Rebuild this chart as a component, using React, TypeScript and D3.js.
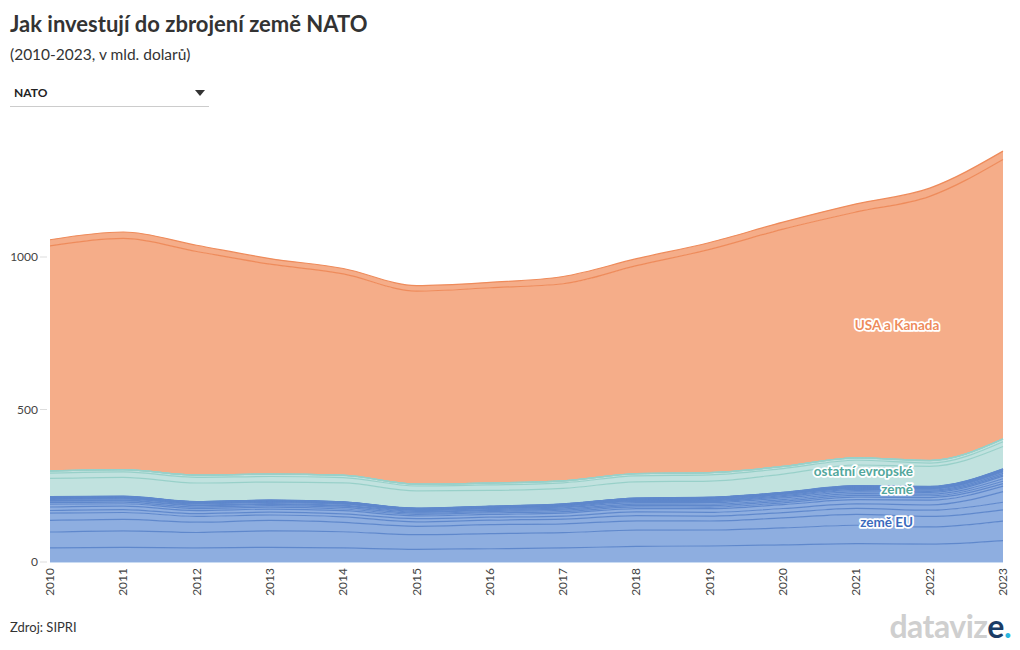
import React from "react";
import * as d3 from "d3";

const years = [2010, 2011, 2012, 2013, 2014, 2015, 2016, 2017, 2018, 2019, 2020, 2021, 2022, 2023];

// EU members (bottom of stack first)
const germany = [46.3, 48.1, 46.5, 48.0, 46.1, 41.5, 43.5, 46.0, 51.0, 52.5, 56.1, 60.5, 58.5, 70.0];
const france = [52.0, 54.1, 50.2, 54.0, 53.1, 48.0, 49.5, 50.0, 53.5, 52.5, 55.5, 60.0, 56.5, 64.0];
const italy = [38.0, 37.6, 33.8, 34.5, 30.9, 27.5, 29.5, 29.1, 30.5, 29.5, 33.0, 35.5, 34.5, 37.0];
const spain = [23.8, 22.5, 18.8, 17.6, 17.7, 14.8, 15.0, 15.6, 17.2, 16.1, 17.4, 19.5, 20.3, 25.0];
const poland = [8.8, 9.5, 9.1, 9.2, 10.1, 10.6, 9.4, 10.0, 11.9, 12.0, 13.4, 15.0, 17.5, 35.0];
const netherlands = [11.4, 11.2, 10.3, 10.2, 10.3, 8.9, 9.3, 9.7, 11.1, 12.1, 12.7, 14.0, 15.6, 18.0];
const greece = [9.1, 7.9, 6.4, 6.1, 5.6, 5.0, 5.2, 5.0, 5.6, 5.4, 6.0, 8.1, 8.3, 8.1];
const belgium = [5.2, 5.3, 5.0, 5.2, 5.2, 3.9, 4.0, 4.3, 4.8, 4.7, 5.4, 6.1, 6.0, 7.7];
const denmark = [4.5, 4.6, 4.5, 4.2, 4.1, 3.4, 3.6, 3.8, 4.4, 4.6, 5.0, 5.4, 5.5, 8.1];
const romania = [2.0, 2.2, 2.1, 2.4, 2.7, 2.6, 2.8, 4.0, 4.6, 5.0, 5.7, 5.7, 5.2, 8.5];
const portugal = [4.2, 4.0, 3.4, 3.7, 3.6, 2.9, 3.0, 3.5, 3.9, 4.2, 4.4, 4.6, 3.9, 4.4];
const czechia = [2.6, 2.5, 2.2, 2.1, 2.0, 1.9, 2.0, 2.3, 2.8, 3.0, 3.2, 3.9, 3.7, 5.0];
const hungary = [1.3, 1.3, 1.2, 1.1, 1.2, 1.1, 1.3, 1.6, 1.8, 2.1, 2.7, 3.0, 3.4, 4.3];
const slovakia = [1.1, 1.1, 1.0, 1.0, 1.0, 1.0, 1.0, 1.1, 1.3, 1.9, 2.0, 2.0, 2.0, 2.8];
const bulgaria = [0.8, 0.8, 0.8, 0.8, 0.8, 0.7, 0.7, 0.8, 0.9, 2.2, 1.2, 1.2, 1.2, 1.3];
const croatia = [1.0, 1.0, 0.9, 0.9, 0.9, 0.8, 0.8, 0.9, 1.0, 1.0, 1.1, 1.4, 1.4, 1.3];
const lithuania = [0.3, 0.3, 0.3, 0.4, 0.4, 0.5, 0.6, 0.8, 1.1, 1.1, 1.2, 1.3, 1.4, 1.7];
const latvia = [0.25, 0.3, 0.3, 0.3, 0.3, 0.3, 0.4, 0.5, 0.7, 0.7, 0.7, 0.8, 0.9, 1.0];
const estonia = [0.3, 0.4, 0.4, 0.5, 0.5, 0.4, 0.5, 0.5, 0.6, 0.7, 0.7, 0.8, 0.8, 1.0];
const slovenia = [0.8, 0.7, 0.6, 0.5, 0.5, 0.4, 0.5, 0.5, 0.6, 0.6, 0.6, 0.8, 0.7, 0.8];
const luxembourg = [0.3, 0.3, 0.3, 0.3, 0.3, 0.3, 0.3, 0.4, 0.4, 0.5, 0.4, 0.5, 0.5, 0.6];

// other European members
const uk = [60.0, 62.0, 61.0, 59.0, 62.0, 57.0, 52.0, 51.0, 53.0, 53.0, 60.0, 68.0, 66.0, 73.0];
const turkey = [17.6, 17.7, 18.2, 18.4, 17.6, 15.7, 17.8, 18.2, 19.6, 20.4, 17.7, 15.5, 10.6, 15.8];
const norway = [6.5, 7.1, 7.3, 7.6, 7.3, 5.9, 6.1, 6.3, 7.0, 6.9, 7.0, 7.6, 7.9, 8.7];
const albania = [0.2, 0.2, 0.2, 0.2, 0.2, 0.13, 0.13, 0.14, 0.18, 0.19, 0.21, 0.24, 0.29, 0.42];
const northMacedonia = [0.13, 0.13, 0.13, 0.12, 0.12, 0.1, 0.1, 0.1, 0.14, 0.17, 0.16, 0.2, 0.22, 0.28];
const montenegro = [0.07, 0.07, 0.07, 0.07, 0.07, 0.07, 0.07, 0.07, 0.08, 0.08, 0.1, 0.1, 0.1, 0.14];

// North America
const usa = [738, 758, 733, 688, 660, 633, 640, 646, 682, 732, 778, 806, 866, 916];
const canada = [20.0, 21.0, 20.5, 18.5, 17.8, 17.9, 17.8, 23.9, 22.7, 22.5, 22.8, 26.5, 26.9, 27.2];

const yTicks = [0, 500, 1000];

type Series = { key: string; group: "eu" | "eur" | "na"; values: number[] };

const seriesList: Series[] = [
  { key: "Německo", group: "eu", values: germany },
  { key: "Francie", group: "eu", values: france },
  { key: "Itálie", group: "eu", values: italy },
  { key: "Španělsko", group: "eu", values: spain },
  { key: "Polsko", group: "eu", values: poland },
  { key: "Nizozemsko", group: "eu", values: netherlands },
  { key: "Řecko", group: "eu", values: greece },
  { key: "Belgie", group: "eu", values: belgium },
  { key: "Dánsko", group: "eu", values: denmark },
  { key: "Rumunsko", group: "eu", values: romania },
  { key: "Portugalsko", group: "eu", values: portugal },
  { key: "Česko", group: "eu", values: czechia },
  { key: "Maďarsko", group: "eu", values: hungary },
  { key: "Slovensko", group: "eu", values: slovakia },
  { key: "Bulharsko", group: "eu", values: bulgaria },
  { key: "Chorvatsko", group: "eu", values: croatia },
  { key: "Litva", group: "eu", values: lithuania },
  { key: "Lotyšsko", group: "eu", values: latvia },
  { key: "Estonsko", group: "eu", values: estonia },
  { key: "Slovinsko", group: "eu", values: slovenia },
  { key: "Lucembursko", group: "eu", values: luxembourg },
  { key: "Velká Británie", group: "eur", values: uk },
  { key: "Turecko", group: "eur", values: turkey },
  { key: "Norsko", group: "eur", values: norway },
  { key: "Albánie", group: "eur", values: albania },
  { key: "Severní Makedonie", group: "eur", values: northMacedonia },
  { key: "Černá Hora", group: "eur", values: montenegro },
  { key: "USA", group: "na", values: usa },
  { key: "Kanada", group: "na", values: canada },
];

const fills = { eu: "#8eaee0", eur: "#c1e2df", na: "#f5ad89" };
const strokes = { eu: "#5f88cc", eur: "#98d0c9", na: "#ee8b5b" };

const FONT = "Lato, 'Noto Sans', sans-serif";

export default function App() {
  const rows = years.map((yr, i) => {
    const r: Record<string, number> = { year: yr };
    seriesList.forEach((s) => (r[s.key] = s.values[i]));
    return r;
  });
  const stack = d3.stack<Record<string, number>>().keys(seriesList.map((s) => s.key));
  const layers = stack(rows);

  const x = d3.scaleLinear().domain([2010, 2023]).range([50, 1003]);
  const y = d3.scaleLinear().domain([0, 1000]).range([562, 257]);

  const area = d3
    .area<d3.SeriesPoint<Record<string, number>>>()
    .x((d) => x(d.data.year))
    .y0((d) => y(d[0]))
    .y1((d) => y(d[1]))
    .curve(d3.curveMonotoneX);
  const line = d3
    .line<d3.SeriesPoint<Record<string, number>>>()
    .x((d) => x(d.data.year))
    .y((d) => y(d[1]))
    .curve(d3.curveMonotoneX);

  const halo = { paintOrder: "stroke" as const, stroke: "#fff", strokeWidth: 3.5, strokeLinejoin: "round" as const };

  return (
    <svg
      width={1020}
      height={650}
      style={{ position: "absolute", left: 0, top: 0, background: "#fff" }}
      fontFamily={FONT}
    >
      <text x={10} y={32} fontSize={22} fontWeight={700} fill="#333">
        Jak investují do zbrojení země NATO
      </text>
      <text x={10} y={60} fontSize={15.5} fill="#333">
        (2010-2023, v mld. dolarů)
      </text>
      <text x={14} y={97} fontSize={12} fontWeight={700} fill="#222">
        NATO
      </text>
      <path d="M195,90 L205,90 L200,96 Z" fill="#333" />
      <line x1={10} x2={209} y1={106.5} y2={106.5} stroke="#ccc" strokeWidth={1} />

      <g>
        {layers.map((layer, i) => {
          const s = seriesList[i];
          return <path key={"a" + s.key} d={area(layer) ?? ""} fill={fills[s.group]} stroke="none" />;
        })}
        {layers.map((layer, i) => {
          const s = seriesList[i];
          return (
            <path
              key={"l" + s.key}
              d={line(layer) ?? ""}
              fill="none"
              stroke={strokes[s.group]}
              strokeWidth={1.2}
            />
          );
        })}
        <line x1={50} x2={1003} y1={562.5} y2={562.5} stroke="#c9dbf2" strokeWidth={1} />
      </g>

      <g fontSize={12} fill="#444">
        {yTicks.map((t) => (
          <g key={t}>
            <line x1={40} x2={47} y1={y(t)} y2={y(t)} stroke="#ddd" />
            <text x={38} y={y(t) + 4} textAnchor="end">
              {t}
            </text>
          </g>
        ))}
        {years.map((yr) => (
          <text
            key={yr}
            transform={`translate(${x(yr) + 4},${568}) rotate(-90)`}
            textAnchor="end"
          >
            {yr}
          </text>
        ))}
      </g>

      <g fontSize={13.5} fontWeight={700}>
        <text x={897} y={330} textAnchor="middle" fill="#ee8b5b" style={halo}>
          USA a Kanada
        </text>
        <text x={913} y={476} textAnchor="end" fill="#52a79c" style={halo}>
          ostatní evropské
        </text>
        <text x={913} y={494} textAnchor="end" fill="#52a79c" style={halo}>
          země
        </text>
        <text x={913} y={527} textAnchor="end" fill="#3a6bbd" style={halo}>
          země EU
        </text>
      </g>

      <text x={10} y={632} fontSize={13} fill="#333">
        Zdroj: SIPRI
      </text>

      <text x={1011} y={638} fontSize={32} fontWeight={700} textAnchor="end" letterSpacing={-0.5}>
        <tspan fill="#cfcfcf">dataviz</tspan>
        <tspan fill="#1b3c66">e</tspan>
        <tspan fill="#29b6de">.</tspan>
      </text>
    </svg>
  );
}
